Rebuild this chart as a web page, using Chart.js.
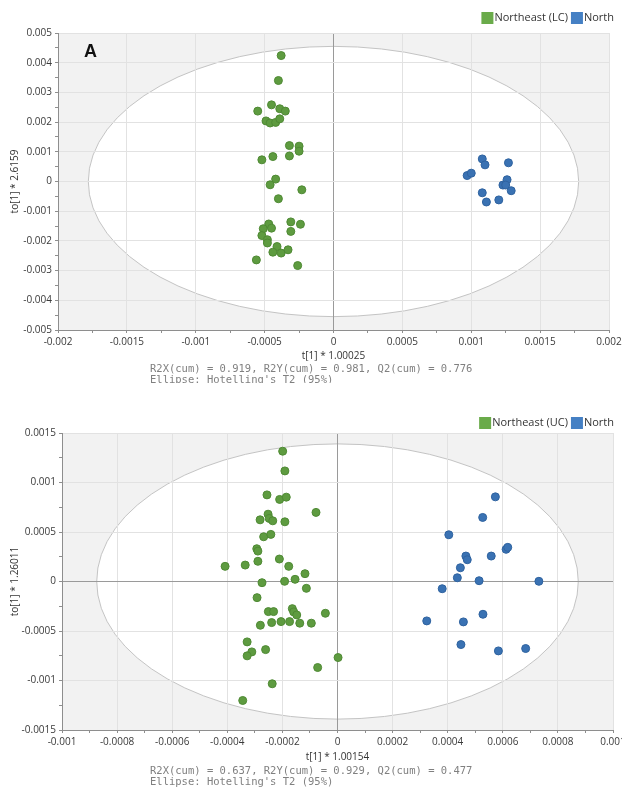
<!DOCTYPE html>
<html>
<head>
<meta charset="utf-8">
<script src="https://cdn.jsdelivr.net/npm/chart.js@4.4.1/dist/chart.umd.min.js"></script>
<style>
  body { margin: 0; background: #fff; width: 622px; height: 787px; position: relative; overflow: hidden; }
  canvas { position: absolute; left: 0; }
  #chart-a { top: 0; }
  #chart-b { top: 400px; }
</style>
</head>
<body>
<canvas id="chart-a" width="622" height="383"></canvas>
<canvas id="chart-b" width="622" height="387"></canvas>
<script>
// Panel A: Northeast (LC) vs North, scores t[1] / to[1]
var aNortheastT = [-0.00038, -0.00040, -0.00045, -0.00055, -0.00039, -0.00035, -0.00049, -0.00046, -0.00042, -0.00039,
    -0.00032, -0.00025, -0.00025, -0.00032, -0.00044, -0.00052, -0.00042, -0.00046, -0.00023, -0.00040,
    -0.00047, -0.00051, -0.00045, -0.00031, -0.00024, -0.00031, -0.00052, -0.00048, -0.00048, -0.00041,
    -0.00044, -0.00038, -0.00033, -0.00056, -0.00026];
var aNortheastTo = [0.00424, 0.00340, 0.00258, 0.00237, 0.00245, 0.00237, 0.00204, 0.00197, 0.00199, 0.00211,
    0.00121, 0.00119, 0.00102, 0.00086, 0.00084, 0.00073, 0.00008, -0.00011, -0.00028, -0.00058,
    -0.00143, -0.00159, -0.00157, -0.00136, -0.00144, -0.00168, -0.00182, -0.00196, -0.00207, -0.00219,
    -0.00238, -0.00241, -0.00230, -0.00264, -0.00283];
var aNorthT = [0.00108, 0.00110, 0.00127, 0.00097, 0.00100, 0.00126, 0.00123, 0.00125, 0.00129, 0.00108, 0.00111, 0.00120];
var aNorthTo = [0.00076, 0.00056, 0.00063, 0.00020, 0.00028, 0.00006, -0.00012, -0.00012, -0.00031, -0.00038, -0.00069, -0.00062];
var aEllipse = [0.00178, 0.00455];   // Hotelling's T2 (95%) semi-axes

// Panel B: Northeast (UC) vs North
var bNortheastT = [-0.000199, -0.000191, -0.000256, -0.000210, -0.000186, -0.000078, -0.000252, -0.000281, -0.000248, -0.000235,
    -0.000191, -0.000268, -0.000242, -0.000293, -0.000289, -0.000408, -0.000335, -0.000289, -0.000211, -0.000177,
    -0.000118, -0.000274, -0.000192, -0.000154, -0.000113, -0.000292, -0.000251, -0.000232, -0.000164, -0.000159,
    -0.000148, -0.000044, -0.000280, -0.000239, -0.000205, -0.000174, -0.000137, -0.000095, -0.000328, -0.000311,
    -0.000328, -0.000261, 0.000002, -0.000072, -0.000237, -0.000344];
var bNortheastTo = [0.001316, 0.001117, 0.000875, 0.000829, 0.000852, 0.000698, 0.000680, 0.000623, 0.000637, 0.000613,
    0.000603, 0.000452, 0.000476, 0.000331, 0.000307, 0.000153, 0.000166, 0.000204, 0.000227, 0.000153,
    0.000079, -0.000012, 0.000002, 0.000022, -0.000069, -0.000163, -0.000304, -0.000304, -0.000274, -0.000307,
    -0.000338, -0.000321, -0.000442, -0.000415, -0.000405, -0.000405, -0.000421, -0.000421, -0.000610, -0.000711,
    -0.000751, -0.000688, -0.000768, -0.000869, -0.001033, -0.001202];
var bNorthT = [0.000573, 0.000527, 0.000404, 0.000612, 0.000618, 0.000466, 0.000471, 0.000558, 0.000446, 0.000435,
    0.000514, 0.000731, 0.000380, 0.000528, 0.000324, 0.000457, 0.000448, 0.000584, 0.000683];
var bNorthTo = [0.000855, 0.000647, 0.000472, 0.000325, 0.000345, 0.000257, 0.000220, 0.000257, 0.000139, 0.000038,
    0.000008, 0.000002, -0.000073, -0.000331, -0.000398, -0.000408, -0.000637, -0.000701, -0.000677];
var bEllipse = [0.000874, 0.00139];

var GREEN = '#5e9b40', BLUE = '#3a72b3';

function points(xs, ys) {
    return xs.map(function (x, i) { return { x: x, y: ys[i] }; });
}

function dataset(label, xs, ys, color, edge) {
    return {
        label: label,
        data: points(xs, ys),
        backgroundColor: color,
        borderColor: edge,
        borderWidth: 1,
        pointRadius: 4,
        pointHoverRadius: 4
    };
}

function fmt(v) {
    return String(Number(v.toFixed(6)));
}

function isMajor(v, major) {
    var r = v / major;
    return Math.abs(r - Math.round(r)) < 1e-6;
}

// linear axis with light grid on major ticks and small marks on minor ticks
function axis(min, max, major, minor, darkZero, fit) {
    return {
        type: 'linear',
        min: min,
        max: max,
        ticks: {
            stepSize: minor,
            autoSkip: false,
            maxRotation: 0,
            padding: 3,
            color: '#3a3a3a',
            font: { family: 'Open Sans', size: 10 },
            callback: function (v) { return isMajor(v, major) ? fmt(v) : ''; }
        },
        grid: {
            tickLength: 3,
            tickColor: '#8e8e8e',
            color: function (ctx) {
                var v = ctx.tick ? ctx.tick.value : 0;
                if (darkZero && Math.abs(v) < minor / 10) return '#9a9a9a';
                return isMajor(v, major) ? '#e2e2e2' : 'rgba(0,0,0,0)';
            }
        },
        border: { color: '#8e8e8e' },
        afterFit: fit
    };
}

var plotDecor = {
    id: 'plotDecor',
    beforeDraw: function (chart, args, o) {
        var c = chart.ctx, a = chart.chartArea, sx = chart.scales.x, sy = chart.scales.y;
        c.save();
        c.fillStyle = '#f2f2f2';
        c.fillRect(a.left, a.top, a.right - a.left, a.bottom - a.top);
        c.beginPath();
        c.rect(a.left, a.top, a.right - a.left, a.bottom - a.top);
        c.clip();
        var x0 = sx.getPixelForValue(0), y0 = sy.getPixelForValue(0);
        var rx = sx.getPixelForValue(o.ellipse[0]) - x0;
        var ry = y0 - sy.getPixelForValue(o.ellipse[1]);
        c.beginPath();
        c.ellipse(x0, y0, rx, ry, 0, 0, Math.PI * 2);
        c.fillStyle = '#ffffff';
        c.fill();
        c.strokeStyle = '#c4c4c4';
        c.lineWidth = 1;
        c.stroke();
        c.restore();
    },
    afterDraw: function (chart, args, o) {
        var c = chart.ctx, a = chart.chartArea, sx = chart.scales.x;
        c.save();
        c.fillStyle = '#333';
        c.font = '10px "Open Sans"';
        c.textAlign = 'center';
        c.textBaseline = 'middle';
        c.fillText(o.xTitle, sx.getPixelForValue(0), o.xTitleY);

        c.save();
        c.translate(15, (a.top + a.bottom) / 2);
        c.rotate(-Math.PI / 2);
        c.fillText(o.yTitle, 0, 0);
        c.restore();

        // model statistics under the plot
        c.fillStyle = '#808080';
        c.font = '10.5px "DejaVu Sans Mono"';
        c.textAlign = 'left';
        o.notes.forEach(function (t, i) {
            c.fillText(t, 150, o.notesY + i * 11);
        });

        // legend, right aligned
        c.font = '11px "Open Sans"';
        var x = 614;
        var sets = chart.data.datasets.slice().reverse();
        sets.forEach(function (ds) {
            var w = c.measureText(ds.label).width;
            x -= w;
            c.fillStyle = '#333';
            c.fillText(ds.label, x, o.legendY);
            x -= 13;
            c.fillStyle = ds.legendColor;
            c.fillRect(x, o.legendY - 6, 12, 12);
            x -= 3;
        });

        if (o.panel) {
            c.fillStyle = '#111';
            c.font = 'bold 18px "Liberation Sans"';
            c.textAlign = 'center';
            c.textBaseline = 'alphabetic';
            c.fillText(o.panel, 90.5, 56.5);
        }
        c.restore();
    }
};

function makeChart(id, sets, xs, ys, yWidth, padRight, decor) {
    var canvas = document.getElementById(id);
    var h = canvas.height;
    xs.afterFit = function (s) { s.height = h - 330; s.paddingLeft = 0; s.paddingRight = 0; };
    ys.afterFit = function (s) { s.width = yWidth; s.paddingTop = 0; s.paddingBottom = 0; };
    return new Chart(canvas.getContext('2d'), {
        type: 'scatter',
        data: { datasets: sets },
        options: {
            responsive: false,
            animation: false,
            layout: { padding: { top: 33, right: padRight, left: 0, bottom: 0 } },
            scales: { x: xs, y: ys },
            plugins: {
                legend: { display: false },
                tooltip: { enabled: false },
                plotDecor: decor
            }
        },
        plugins: [plotDecor]
    });
}

var setsA = [
    dataset('Northeast (LC)', aNortheastT, aNortheastTo, GREEN, '#4f8a34'),
    dataset('North', aNorthT, aNorthTo, BLUE, '#2f63a0')
];
setsA[0].legendColor = '#6aab4a';
setsA[1].legendColor = '#4580c4';

var setsB = [
    dataset('Northeast (UC)', bNortheastT, bNortheastTo, GREEN, '#4f8a34'),
    dataset('North', bNorthT, bNorthTo, BLUE, '#2f63a0')
];
setsB[0].legendColor = '#6aab4a';
setsB[1].legendColor = '#4580c4';

makeChart('chart-a', setsA,
    axis(-0.002, 0.002, 0.0005, 0.00025, true),
    axis(-0.005, 0.005, 0.001, 0.0005, false),
    58, 13, {
        ellipse: aEllipse,
        xTitle: 't[1] * 1.00025',
        yTitle: 'to[1] * 2.6159',
        xTitleY: 356,
        notesY: 369,
        notes: ['R2X(cum) = 0.919, R2Y(cum) = 0.981, Q2(cum) = 0.776', "Ellipse: Hotelling's T2 (95%)"],
        legendY: 18,
        panel: 'A'
    });

makeChart('chart-b', setsB,
    axis(-0.001, 0.001, 0.0002, 0.0001, true),
    axis(-0.0015, 0.0015, 0.0005, 0.00025, true),
    62, 9, {
        ellipse: bEllipse,
        xTitle: 't[1] * 1.00154',
        yTitle: 'to[1] * 1.26011',
        xTitleY: 357,
        notesY: 371,
        notes: ['R2X(cum) = 0.637, R2Y(cum) = 0.929, Q2(cum) = 0.477', "Ellipse: Hotelling's T2 (95%)"],
        legendY: 23,
        panel: ''
    });
</script>
</body>
</html>
